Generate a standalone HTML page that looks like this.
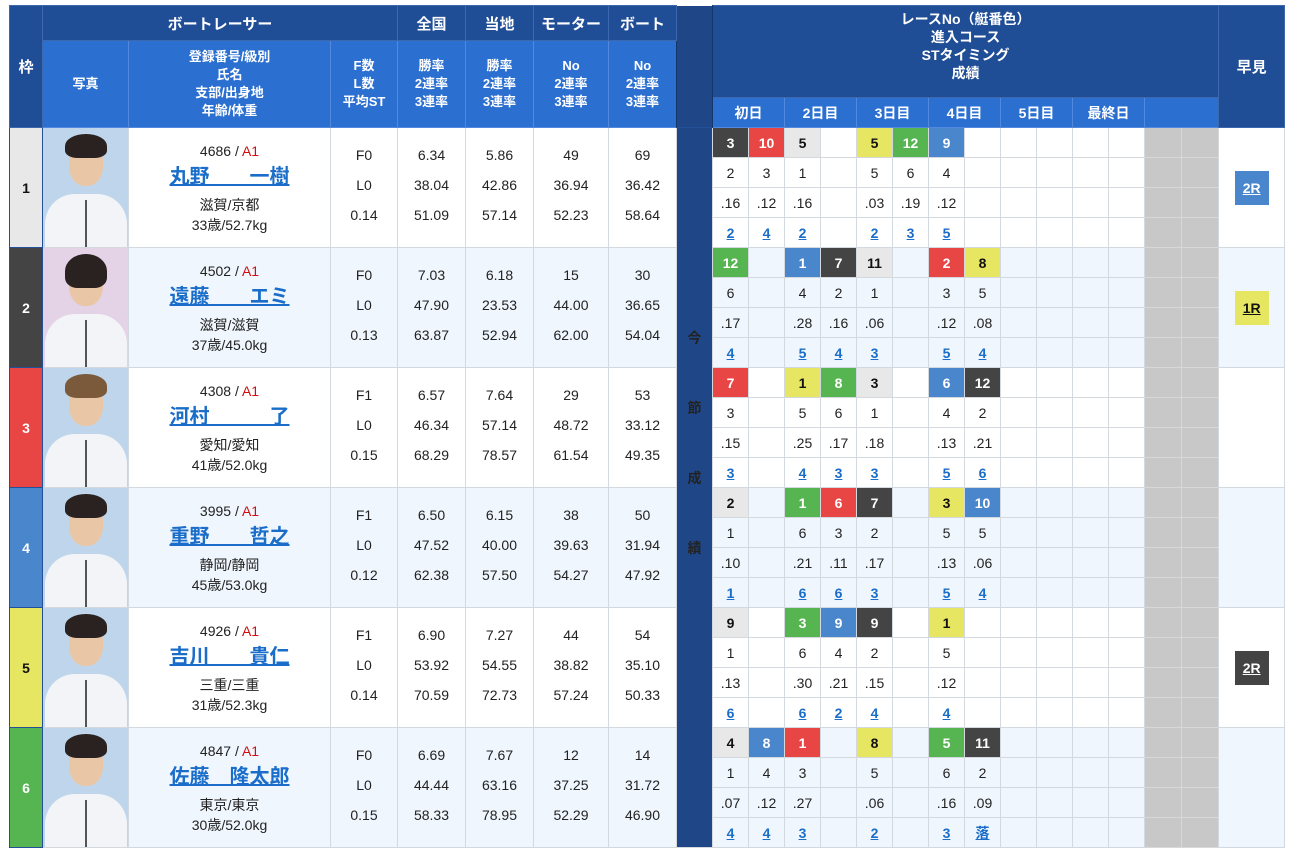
<!DOCTYPE html>
<html><head><meta charset="utf-8">
<style>
body{margin:0;background:#fff;font-family:"Liberation Sans","Noto Sans CJK JP",sans-serif;}
table{position:absolute;left:9px;top:5px;border-collapse:collapse;table-layout:fixed;width:1275px;}
td,th{padding:0;text-align:center;vertical-align:middle;overflow:hidden;}
th{color:#fff;font-weight:bold;}
.h1{background:#1f4d96;font-size:15px;border:1px solid #3d68ad;}
.h2{background:#2b6fd0;font-size:13px;line-height:18px;border:1px solid #5289dd;}
.strip{background:#1f4788;border-left:1px solid #15366b;border-right:1px solid #15366b;color:#fff;font-weight:bold;font-size:16px;}
tr.r td{height:29px;font-size:14px;color:#222;border:1px solid #d4d9e0;}
tr.top td{border-top:1px solid #24509a;}
.w{font-size:17px;font-weight:bold;border:1px solid #24509a!important;}
.f1{background:#e8e8e8!important;color:#111!important}.f2{background:#444!important;color:#fff!important}.f3{background:#e84545!important;color:#fff!important}
.f4{background:#4a86cc!important;color:#fff!important}.f5{background:#e6e662!important;color:#111!important}.f6{background:#57b551!important;color:#fff!important}
.n{font-weight:bold;}
.g{background:#c8c8c8!important;border-color:#d8d8d8!important}
.alt td{background:#eff6fd;}
.st{line-height:30px;padding-bottom:6px;}
.nm{font-size:13px;line-height:20px;}
.nm a{font-size:20px;font-weight:bold;color:#1a6dc8;text-decoration:underline;display:inline-block;margin:4px 0 6px;line-height:24px;}
.nm .a{color:#d01010;}
.res a{color:#1a6dc8;font-weight:bold;text-decoration:underline;}
.hb{display:inline-block;width:34px;height:34px;line-height:34px;font-weight:bold;font-size:14px;text-decoration:underline;}
.ph{position:relative;height:119px;background:#bfd5ec;overflow:hidden;}
.ph .head{position:absolute;left:26px;top:14px;width:34px;height:44px;border-radius:45%;background:#e9c6a6;}
.ph .hair{position:absolute;left:22px;top:6px;width:42px;height:24px;border-radius:50% 50% 30% 30%;background:#2a2220;}
.ph .body{position:absolute;left:2px;top:66px;width:82px;height:60px;border-radius:30px 30px 0 0;background:#f2f4f7;}
.ph .zip{position:absolute;left:42px;top:72px;width:2px;height:50px;background:#555;}
</style></head><body>
<table>
<colgroup>
<col style="width:33px"><col style="width:86px"><col style="width:202px"><col style="width:67px"><col style="width:68px"><col style="width:68px"><col style="width:75px"><col style="width:68px"><col style="width:36px">
<col style="width:36px"><col style="width:36px"><col style="width:36px"><col style="width:36px"><col style="width:36px"><col style="width:36px"><col style="width:36px"><col style="width:36px"><col style="width:36px"><col style="width:36px"><col style="width:36px"><col style="width:36px"><col style="width:37px"><col style="width:37px">
<col style="width:66px">
</colgroup>
<tr style="height:35px">
<th class="h1" rowspan="3">枠</th><th class="h1" colspan="3">ボートレーサー</th><th class="h1">全国</th><th class="h1">当地</th><th class="h1">モーター</th><th class="h1">ボート</th>
<th class="strip" rowspan="3"></th>
<th class="h1" colspan="14" rowspan="2" style="font-size:14px;line-height:18px;padding-top:4px;vertical-align:top">レースNo（艇番色）<br>進入コース<br>STタイミング<br>成績</th>
<th class="h1" rowspan="3">早見</th></tr>
<tr style="height:57px">
<th class="h2" rowspan="2">写真</th><th class="h2" rowspan="2">登録番号/級別<br>氏名<br>支部/出身地<br>年齢/体重</th><th class="h2" rowspan="2">F数<br>L数<br>平均ST</th><th class="h2" rowspan="2">勝率<br>2連率<br>3連率</th><th class="h2" rowspan="2">勝率<br>2連率<br>3連率</th><th class="h2" rowspan="2">No<br>2連率<br>3連率</th><th class="h2" rowspan="2">No<br>2連率<br>3連率</th></tr>
<tr style="height:30px">
<th class="h2" colspan="2" style="font-size:14px">初日</th><th class="h2" colspan="2" style="font-size:14px">2日目</th><th class="h2" colspan="2" style="font-size:14px">3日目</th><th class="h2" colspan="2" style="font-size:14px">4日目</th><th class="h2" colspan="2" style="font-size:14px">5日目</th><th class="h2" colspan="2" style="font-size:14px">最終日</th><th class="h2" colspan="2"></th></tr>

<!-- racer 1 -->
<tr class="r top"><td class="w f1" rowspan="4">1</td><td rowspan="4"><div class="ph"><div class="body"></div><div class="zip"></div><div class="head"></div><div class="hair"></div></div></td>
<td rowspan="4" class="nm">4686 / <span class="a">A1</span><br><a>丸野　　一樹</a><br>滋賀/京都<br>33歳/52.7kg</td>
<td rowspan="4" class="st">F0<br>L0<br>0.14</td><td rowspan="4" class="st">6.34<br>38.04<br>51.09</td><td rowspan="4" class="st">5.86<br>42.86<br>57.14</td><td rowspan="4" class="st">49<br>36.94<br>52.23</td><td rowspan="4" class="st">69<br>36.42<br>58.64</td>
<td class="strip" rowspan="24" style="vertical-align:top"><div style="padding-top:175px;line-height:70px">今<br>節<br>成<br>績</div></td>
<td class="n f2">3</td><td class="n f3">10</td><td class="n f1">5</td><td></td><td class="n f5">5</td><td class="n f6">12</td><td class="n f4">9</td><td></td><td></td><td></td><td></td><td></td><td class="g"></td><td class="g"></td>
<td rowspan="4" style="border-top:1px solid #24509a"><span class="hb f4">2R</span></td></tr>
<tr class="r"><td>2</td><td>3</td><td>1</td><td></td><td>5</td><td>6</td><td>4</td><td></td><td></td><td></td><td></td><td></td><td class="g"></td><td class="g"></td></tr>
<tr class="r"><td>.16</td><td>.12</td><td>.16</td><td></td><td>.03</td><td>.19</td><td>.12</td><td></td><td></td><td></td><td></td><td></td><td class="g"></td><td class="g"></td></tr>
<tr class="r res"><td><a>2</a></td><td><a>4</a></td><td><a>2</a></td><td></td><td><a>2</a></td><td><a>3</a></td><td><a>5</a></td><td></td><td></td><td></td><td></td><td></td><td class="g"></td><td class="g"></td></tr>

<!-- racer 2 -->
<tr class="r top alt"><td class="w f2" rowspan="4">2</td><td rowspan="4"><div class="ph" style="background:#e4d2e6"><div class="body"></div><div class="zip"></div><div class="head"></div><div class="hair" style="height:34px"></div></div></td>
<td rowspan="4" class="nm">4502 / <span class="a">A1</span><br><a>遠藤　　エミ</a><br>滋賀/滋賀<br>37歳/45.0kg</td>
<td rowspan="4" class="st">F0<br>L0<br>0.13</td><td rowspan="4" class="st">7.03<br>47.90<br>63.87</td><td rowspan="4" class="st">6.18<br>23.53<br>52.94</td><td rowspan="4" class="st">15<br>44.00<br>62.00</td><td rowspan="4" class="st">30<br>36.65<br>54.04</td>
<td class="n f6">12</td><td></td><td class="n f4">1</td><td class="n f2">7</td><td class="n f1">11</td><td></td><td class="n f3">2</td><td class="n f5">8</td><td></td><td></td><td></td><td></td><td class="g"></td><td class="g"></td>
<td rowspan="4"><span class="hb f5">1R</span></td></tr>
<tr class="r alt"><td>6</td><td></td><td>4</td><td>2</td><td>1</td><td></td><td>3</td><td>5</td><td></td><td></td><td></td><td></td><td class="g"></td><td class="g"></td></tr>
<tr class="r alt"><td>.17</td><td></td><td>.28</td><td>.16</td><td>.06</td><td></td><td>.12</td><td>.08</td><td></td><td></td><td></td><td></td><td class="g"></td><td class="g"></td></tr>
<tr class="r alt res"><td><a>4</a></td><td></td><td><a>5</a></td><td><a>4</a></td><td><a>3</a></td><td></td><td><a>5</a></td><td><a>4</a></td><td></td><td></td><td></td><td></td><td class="g"></td><td class="g"></td></tr>

<!-- racer 3 -->
<tr class="r top"><td class="w f3" rowspan="4">3</td><td rowspan="4"><div class="ph"><div class="body"></div><div class="zip"></div><div class="head"></div><div class="hair" style="background:#7a5a3a"></div></div></td>
<td rowspan="4" class="nm">4308 / <span class="a">A1</span><br><a>河村　　　了</a><br>愛知/愛知<br>41歳/52.0kg</td>
<td rowspan="4" class="st">F1<br>L0<br>0.15</td><td rowspan="4" class="st">6.57<br>46.34<br>68.29</td><td rowspan="4" class="st">7.64<br>57.14<br>78.57</td><td rowspan="4" class="st">29<br>48.72<br>61.54</td><td rowspan="4" class="st">53<br>33.12<br>49.35</td>
<td class="n f3">7</td><td></td><td class="n f5">1</td><td class="n f6">8</td><td class="n f1">3</td><td></td><td class="n f4">6</td><td class="n f2">12</td><td></td><td></td><td></td><td></td><td class="g"></td><td class="g"></td>
<td rowspan="4"></td></tr>
<tr class="r"><td>3</td><td></td><td>5</td><td>6</td><td>1</td><td></td><td>4</td><td>2</td><td></td><td></td><td></td><td></td><td class="g"></td><td class="g"></td></tr>
<tr class="r"><td>.15</td><td></td><td>.25</td><td>.17</td><td>.18</td><td></td><td>.13</td><td>.21</td><td></td><td></td><td></td><td></td><td class="g"></td><td class="g"></td></tr>
<tr class="r res"><td><a>3</a></td><td></td><td><a>4</a></td><td><a>3</a></td><td><a>3</a></td><td></td><td><a>5</a></td><td><a>6</a></td><td></td><td></td><td></td><td></td><td class="g"></td><td class="g"></td></tr>

<!-- racer 4 -->
<tr class="r top alt"><td class="w f4" rowspan="4">4</td><td rowspan="4"><div class="ph"><div class="body"></div><div class="zip"></div><div class="head"></div><div class="hair"></div></div></td>
<td rowspan="4" class="nm">3995 / <span class="a">A1</span><br><a>重野　　哲之</a><br>静岡/静岡<br>45歳/53.0kg</td>
<td rowspan="4" class="st">F1<br>L0<br>0.12</td><td rowspan="4" class="st">6.50<br>47.52<br>62.38</td><td rowspan="4" class="st">6.15<br>40.00<br>57.50</td><td rowspan="4" class="st">38<br>39.63<br>54.27</td><td rowspan="4" class="st">50<br>31.94<br>47.92</td>
<td class="n f1">2</td><td></td><td class="n f6">1</td><td class="n f3">6</td><td class="n f2">7</td><td></td><td class="n f5">3</td><td class="n f4">10</td><td></td><td></td><td></td><td></td><td class="g"></td><td class="g"></td>
<td rowspan="4"></td></tr>
<tr class="r alt"><td>1</td><td></td><td>6</td><td>3</td><td>2</td><td></td><td>5</td><td>5</td><td></td><td></td><td></td><td></td><td class="g"></td><td class="g"></td></tr>
<tr class="r alt"><td>.10</td><td></td><td>.21</td><td>.11</td><td>.17</td><td></td><td>.13</td><td>.06</td><td></td><td></td><td></td><td></td><td class="g"></td><td class="g"></td></tr>
<tr class="r alt res"><td><a>1</a></td><td></td><td><a>6</a></td><td><a>6</a></td><td><a>3</a></td><td></td><td><a>5</a></td><td><a>4</a></td><td></td><td></td><td></td><td></td><td class="g"></td><td class="g"></td></tr>

<!-- racer 5 -->
<tr class="r top"><td class="w f5" rowspan="4">5</td><td rowspan="4"><div class="ph"><div class="body"></div><div class="zip"></div><div class="head"></div><div class="hair"></div></div></td>
<td rowspan="4" class="nm">4926 / <span class="a">A1</span><br><a>吉川　　貴仁</a><br>三重/三重<br>31歳/52.3kg</td>
<td rowspan="4" class="st">F1<br>L0<br>0.14</td><td rowspan="4" class="st">6.90<br>53.92<br>70.59</td><td rowspan="4" class="st">7.27<br>54.55<br>72.73</td><td rowspan="4" class="st">44<br>38.82<br>57.24</td><td rowspan="4" class="st">54<br>35.10<br>50.33</td>
<td class="n f1">9</td><td></td><td class="n f6">3</td><td class="n f4">9</td><td class="n f2">9</td><td></td><td class="n f5">1</td><td></td><td></td><td></td><td></td><td></td><td class="g"></td><td class="g"></td>
<td rowspan="4"><span class="hb f2">2R</span></td></tr>
<tr class="r"><td>1</td><td></td><td>6</td><td>4</td><td>2</td><td></td><td>5</td><td></td><td></td><td></td><td></td><td></td><td class="g"></td><td class="g"></td></tr>
<tr class="r"><td>.13</td><td></td><td>.30</td><td>.21</td><td>.15</td><td></td><td>.12</td><td></td><td></td><td></td><td></td><td></td><td class="g"></td><td class="g"></td></tr>
<tr class="r res"><td><a>6</a></td><td></td><td><a>6</a></td><td><a>2</a></td><td><a>4</a></td><td></td><td><a>4</a></td><td></td><td></td><td></td><td></td><td></td><td class="g"></td><td class="g"></td></tr>

<!-- racer 6 -->
<tr class="r top alt"><td class="w f6" rowspan="4">6</td><td rowspan="4"><div class="ph"><div class="body"></div><div class="zip"></div><div class="head"></div><div class="hair"></div></div></td>
<td rowspan="4" class="nm">4847 / <span class="a">A1</span><br><a>佐藤　隆太郎</a><br>東京/東京<br>30歳/52.0kg</td>
<td rowspan="4" class="st">F0<br>L0<br>0.15</td><td rowspan="4" class="st">6.69<br>44.44<br>58.33</td><td rowspan="4" class="st">7.67<br>63.16<br>78.95</td><td rowspan="4" class="st">12<br>37.25<br>52.29</td><td rowspan="4" class="st">14<br>31.72<br>46.90</td>
<td class="n f1">4</td><td class="n f4">8</td><td class="n f3">1</td><td></td><td class="n f5">8</td><td></td><td class="n f6">5</td><td class="n f2">11</td><td></td><td></td><td></td><td></td><td class="g"></td><td class="g"></td>
<td rowspan="4"></td></tr>
<tr class="r alt"><td>1</td><td>4</td><td>3</td><td></td><td>5</td><td></td><td>6</td><td>2</td><td></td><td></td><td></td><td></td><td class="g"></td><td class="g"></td></tr>
<tr class="r alt"><td>.07</td><td>.12</td><td>.27</td><td></td><td>.06</td><td></td><td>.16</td><td>.09</td><td></td><td></td><td></td><td></td><td class="g"></td><td class="g"></td></tr>
<tr class="r alt res" style="border-bottom:1px solid #24509a"><td><a>4</a></td><td><a>4</a></td><td><a>3</a></td><td></td><td><a>2</a></td><td></td><td><a>3</a></td><td><a>落</a></td><td></td><td></td><td></td><td></td><td class="g"></td><td class="g"></td></tr>
</table>
</body></html>
